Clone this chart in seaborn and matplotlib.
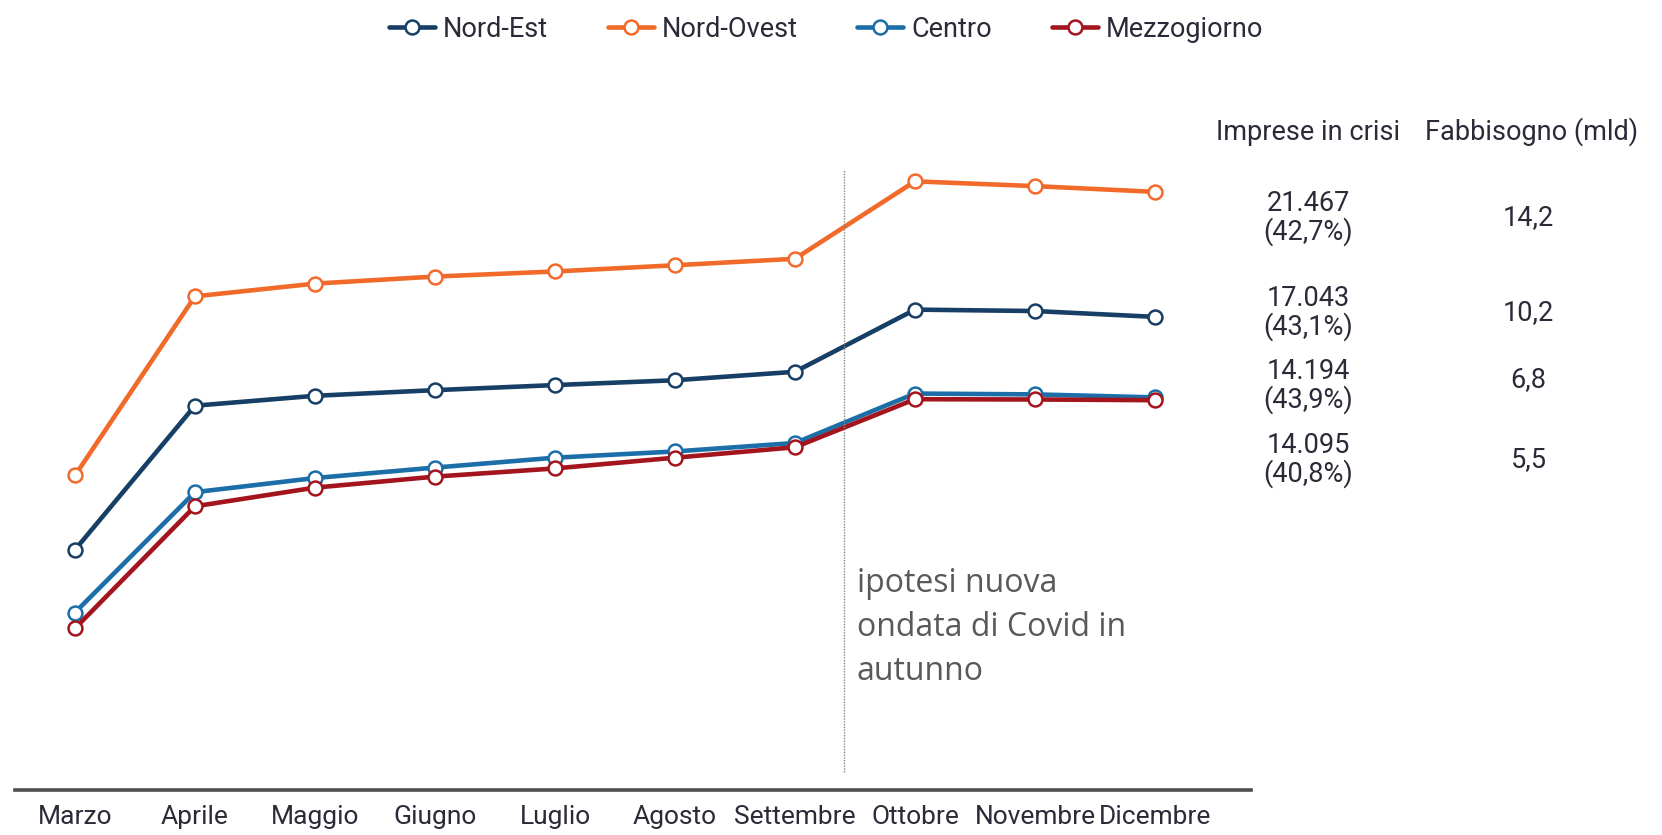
import pandas as pd
import matplotlib
matplotlib.use("Agg")
import matplotlib.pyplot as plt
import seaborn as sns
from matplotlib import font_manager as fm

months = ["Marzo", "Aprile", "Maggio", "Giugno", "Luglio", "Agosto",
          "Settembre", "Ottobre", "Novembre", "Dicembre"]
areas = ["Nord-Est", "Nord-Ovest", "Centro", "Mezzogiorno"]
nord_est = [8800, 13900, 14250, 14450, 14630, 14800, 15100, 17300, 17250, 17043]
nord_ovest = [11430, 17770, 18220, 18470, 18650, 18870, 19100, 21840, 21670, 21467]
centro = [6580, 10840, 11340, 11710, 12060, 12280, 12580, 14330, 14300, 14194]
mezzogiorno = [6020, 10340, 11000, 11390, 11680, 12060, 12430, 14130, 14120, 14095]
colors = ["#173f66", "#f26a2a", "#1b6ea8", "#a3141d"]

table_header = ["Imprese in crisi", "Fabbisogno (mld)"]
imprese = ["21.467\n(42,7%)", "17.043\n(43,1%)", "14.194\n(43,9%)", "14.095\n(40,8%)"]
fabbisogno = ["14,2", "10,2", "6,8", "5,5"]
note = "ipotesi nuova\nondata di Covid in\nautunno"

df = pd.DataFrame({"Mese": months * 4,
                   "Area": sum([[a] * len(months) for a in areas], []),
                   "Imprese": nord_est + nord_ovest + centro + mezzogiorno})

sns.set_style("white")
txt_col = "#2b2a38"
big = 19.5


def cfont(size=big):
    return fm.FontProperties(family="Roboto", size=size)


fig = plt.figure(figsize=(16.62, 8.35), dpi=100)
ax = fig.add_axes([0.009, 0.0539, 0.7437, 0.7665])

sns.lineplot(data=df, x="Mese", y="Imprese", hue="Area", hue_order=areas,
             palette=colors, sort=False, marker="o", markersize=10,
             linewidth=3.3, legend=False, ax=ax)
for line, c in zip(ax.lines, colors):
    line.set_markerfacecolor("white")
    line.set_markeredgecolor(c)
    line.set_markeredgewidth(1.8)

ax.vlines(6.41, 950, 22250, colors="#888888", linestyles=(0, (1, 1)), linewidth=1)

ax.set_xlim(-0.5, 9.8)
ax.set_ylim(300, 22950)
ax.set_xlabel("")
ax.set_ylabel("")
ax.set_yticks([])
ax.tick_params(axis="x", length=0, pad=11)
for lab in ax.get_xticklabels():
    lab.set_fontproperties(cfont(19))
    lab.set_color(txt_col)
for s in ["left", "right", "top"]:
    ax.spines[s].set_visible(False)
ax.spines["bottom"].set_color("#4d4d4d")
ax.spines["bottom"].set_linewidth(2.6)

handles = list(ax.lines[:4])
fig.legend(handles, areas, loc="center", bbox_to_anchor=(0.497, 0.965), ncol=4,
           frameon=False, handlelength=1.7, handletextpad=0.3, columnspacing=2.2,
           prop=cfont(), labelcolor=txt_col)

fig.text(857 / 1662, 1 - 567 / 835, note, ha="left", va="top", fontsize=23,
         family="Open Sans", color="#595959", linespacing=1.45)

col_x = [1308 / 1662, 1532 / 1662]
for cx, h in zip(col_x, table_header):
    fig.text(cx, 1 - 132 / 835, h, ha="center", va="center",
             color=txt_col, fontproperties=cfont())
row_y = [218, 313, 386, 460]
fab_y = [218, 313, 380, 460]
for yi, fy, a, b in zip(row_y, fab_y, imprese, fabbisogno):
    fig.text(col_x[0], 1 - yi / 835, a, ha="center", va="center", color=txt_col,
             linespacing=1.0, fontproperties=cfont())
    fig.text(col_x[1] - 0.002, 1 - fy / 835, b, ha="center", va="center", color=txt_col,
             fontproperties=cfont())

fig.savefig("out.png", dpi=100)
